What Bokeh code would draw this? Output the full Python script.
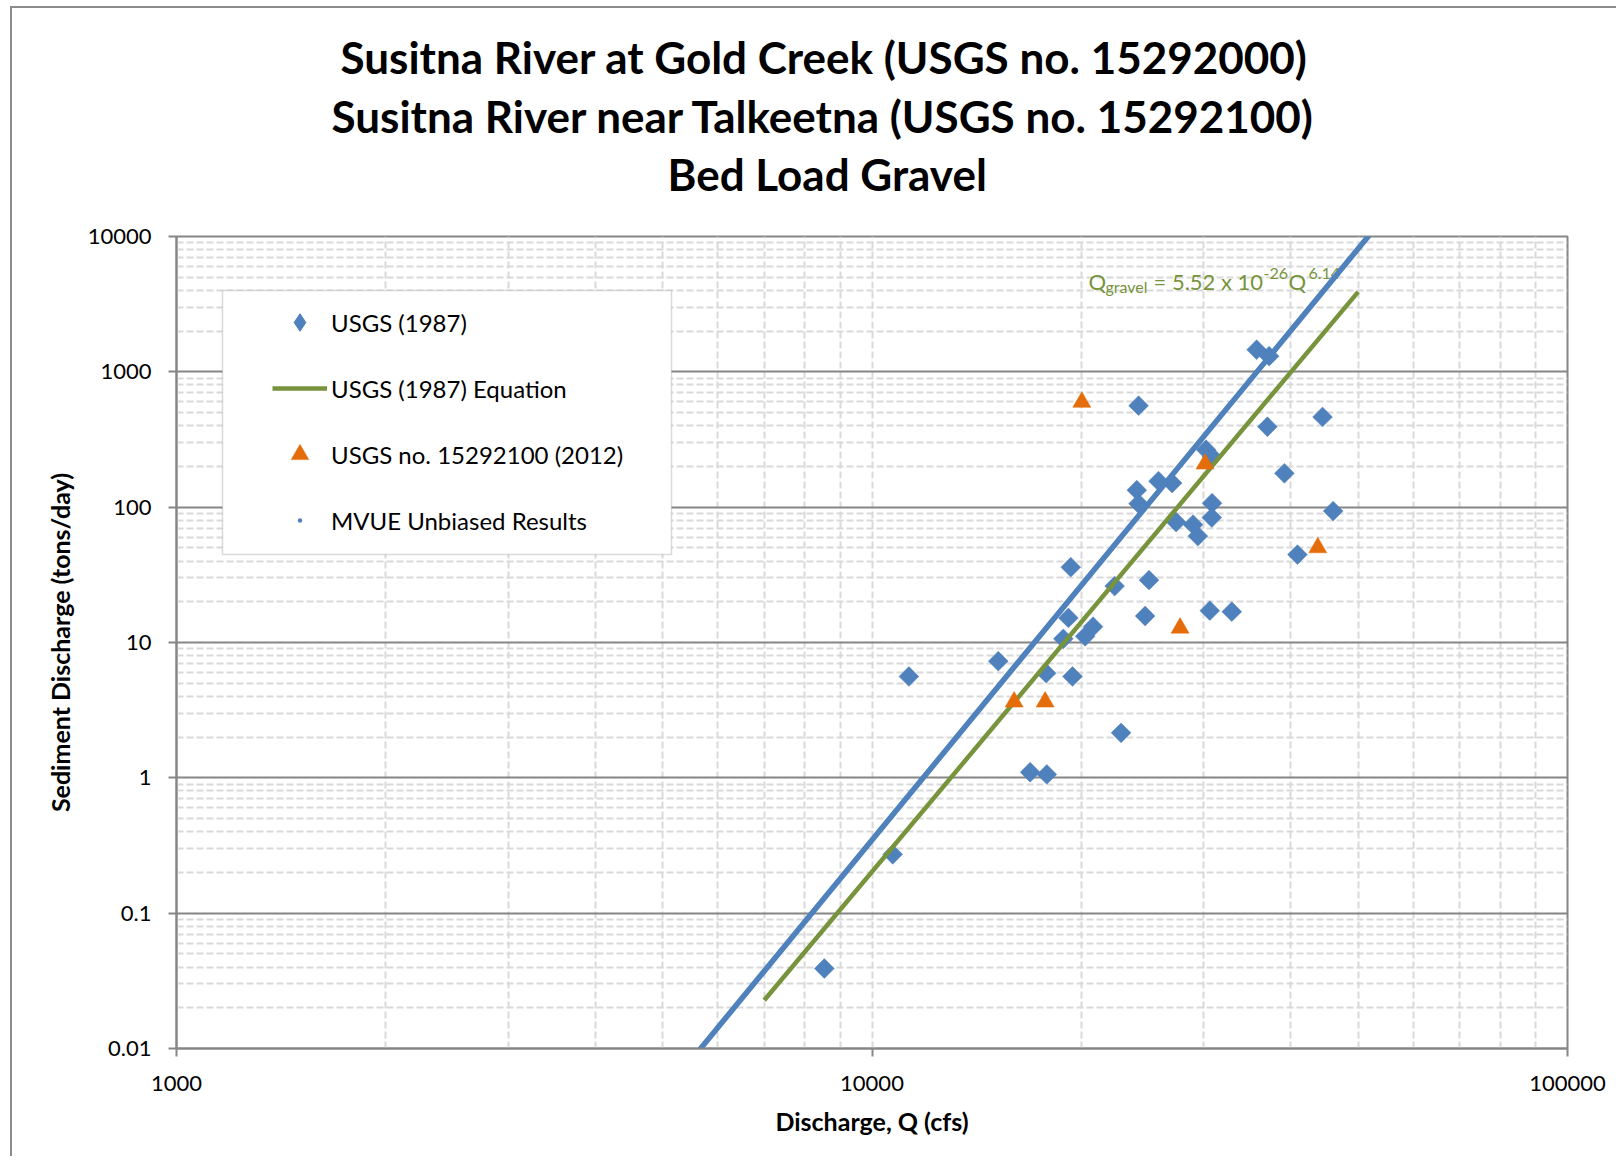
import math
from bokeh.plotting import figure
from bokeh.models import FixedTicker, Label, Legend, LegendItem, BoxAnnotation, Range1d, Title
from bokeh.embed import file_html
from bokeh.resources import INLINE

# ---------------- data ----------------
usgs1987_q = [8540, 10710, 11300, 15190, 16880, 17840, 17800, 19420, 18840, 19160,
              19310, 20250, 20790, 22330, 22810, 24700, 25020, 24170, 24030, 24170,
              25820, 27010, 27370, 28950, 29410, 30220, 30830, 30830, 30800, 30600,
              32910, 35730, 37240, 37030, 39170, 40900, 44440, 46030]
usgs1987_qs = [0.039, 0.272, 5.61, 7.28, 1.10, 1.06, 5.93, 5.61, 10.65, 15.2,
               36.0, 11.1, 13.1, 26.1, 2.15, 15.7, 28.9, 562, 133.6, 106.2,
               155.7, 150.6, 77.6, 74.3, 61.1, 266, 236, 107, 83.7, 17.2,
               16.9, 1457, 1305, 393, 178, 44.6, 464, 93.5]

usgs2012_q = [16010, 17740, 20030, 27730, 30120, 43750]
usgs2012_qs = [3.64, 3.64, 597, 12.8, 208.7, 50.3]

equation_q = [7000, 50000]
equation_qs = [0.0227, 3900]

mvue_q = [5670, 51690]
mvue_qs = [0.01, 10000]

x_ticks = [1000, 10000, 100000]
x_tick_labels = ["1000", "10000", "100000"]
y_ticks = [0.01, 0.1, 1, 10, 100, 1000, 10000]
y_tick_labels = ["0.01", "0.1", "1", "10", "100", "1000", "10000"]

title_lines = ["Susitna River at Gold Creek (USGS no. 15292000)",
               "Susitna River near Talkeetna (USGS no. 15292100)",
               "Bed Load Gravel"]
series_names = ["USGS (1987)", "USGS (1987) Equation",
                "USGS no. 15292100 (2012)", "MVUE Unbiased Results"]

# ---------------- styles ----------------
BLUE = "#4F81BD"
ORANGE = "#E46C0A"
GREEN = "#77933C"
AXIS = "#868686"
MINOR = "#D9D9D9"
FONT = "Lato"

p = figure(width=1606, height=1150,
           x_axis_type="log", y_axis_type="log",
           x_range=Range1d(1000, 100000), y_range=Range1d(0.01, 10000),
           output_backend="svg", toolbar_location=None,
           min_border_left=164, min_border_right=51,
           min_border_top=228, min_border_bottom=110,
           background_fill_color="white", border_fill_color="white")
p.styles = {"border-left": "2px solid #8C8C8C", "border-top": "2px solid #8C8C8C",
            "margin-left": "10px", "margin-top": "6px"}

x_minor = [m * 10.0 ** e for e in (3, 4) for m in range(2, 10)]
y_minor = [m * 10.0 ** e for e in range(-2, 4) for m in range(2, 10)]
xt = FixedTicker(ticks=x_ticks, minor_ticks=x_minor)
yt = FixedTicker(ticks=y_ticks, minor_ticks=y_minor)
p.xaxis.ticker = xt
p.yaxis.ticker = yt
p.xgrid.ticker = xt
p.ygrid.ticker = yt
p.xaxis.major_label_overrides = dict(zip(x_ticks, x_tick_labels))
p.yaxis.major_label_overrides = dict(zip(y_ticks, y_tick_labels))

p.outline_line_color = AXIS
p.outline_line_width = 2

for ax in (p.xaxis[0], p.yaxis[0]):
    ax.axis_line_color = AXIS
    ax.axis_line_width = 2
    ax.major_tick_line_color = AXIS
    ax.major_tick_line_width = 2
    ax.major_tick_out = 8
    ax.major_tick_in = 0
    ax.minor_tick_line_color = None
    ax.major_label_text_font = FONT
    ax.major_label_text_font_size = "22px"
    ax.major_label_text_color = "black"
    ax.axis_label_text_font = FONT
    ax.axis_label_text_font_style = "bold"
    ax.axis_label_text_font_size = "25px"
    ax.axis_label_text_color = "black"

p.xaxis.axis_label = "Discharge, Q (cfs)"
p.yaxis.axis_label = "Sediment Discharge (tons/day)"
p.xaxis.major_label_standoff = 19
p.yaxis.major_label_standoff = 17
p.xaxis.axis_label_standoff = 12
p.yaxis.axis_label_standoff = 10

p.xgrid.grid_line_color = MINOR
p.xgrid.grid_line_dash = "7 3"
p.xgrid.grid_line_width = 2
p.xgrid.minor_grid_line_color = MINOR
p.xgrid.minor_grid_line_dash = "7 3"
p.xgrid.minor_grid_line_width = 2
p.ygrid.grid_line_color = AXIS
p.ygrid.grid_line_width = 2
p.ygrid.minor_grid_line_color = MINOR
p.ygrid.minor_grid_line_dash = "7 3"
p.ygrid.minor_grid_line_width = 2

# ---------------- titles (stacked upward from the plot) ----------------
# spacing block between the plot frame and the last title line
p.add_layout(Title(text=" ", standoff=22, text_font=FONT, text_font_size="10px"), "above")
for txt, off, so in zip(reversed(title_lines), [491, 155, 164], [2, 5, 5]):
    p.add_layout(Title(text=txt, align="left", offset=off, standoff=so,
                       text_font=FONT, text_font_style="bold", text_font_size="44px",
                       text_color="black"), "above")

# ---------------- equation label (behind the glyphs) ----------------
eq_parts = [  # (text, x, y, size)
    ("Q", 912, 767, "22px"),
    ("gravel", 929, 762, "16px"),
    ("= 5.52 x 10", 977, 767, "22px"),
    ("-26", 1087, 775, "16px"),
    ("Q", 1112, 767, "22px"),
    ("6.14", 1132, 775, "16px"),
]
for txt, x, y, sz in eq_parts:
    p.add_layout(Label(x=x, y=y, x_units="screen", y_units="screen", text=txt,
                       text_font=FONT, text_font_size=sz, text_color=GREEN,
                       text_baseline="alphabetic", text_align="left", level="underlay"))

# ---------------- glyphs ----------------
# legend proxy for the diamond symbol (hidden under the first data diamond)
r_usgs_proxy = p.scatter(usgs1987_q[:1], usgs1987_qs[:1], marker="diamond", size=12,
                         fill_color=BLUE, line_color=BLUE)
r_usgs = p.scatter(usgs1987_q, usgs1987_qs, marker="square", size=14, angle=math.pi / 4,
                   fill_color=BLUE, line_color=BLUE, line_width=0.5)
r_eq = p.line(equation_q, equation_qs, line_color=GREEN, line_width=4.5)
r_2012 = p.scatter(usgs2012_q, usgs2012_qs, marker="triangle", size=18,
                   fill_color=ORANGE, line_color=ORANGE, line_width=0.5)
r_mvue_line = p.line(mvue_q, mvue_qs, line_color=BLUE, line_width=5.5, line_cap="round")
r_mvue = p.scatter(mvue_q, mvue_qs, marker="dot", size=6, fill_color=BLUE, line_color=BLUE)

# ---------------- legend ----------------
p.add_layout(BoxAnnotation(left=46, right=495, bottom=494, top=758,
                           left_units="screen", right_units="screen",
                           bottom_units="screen", top_units="screen",
                           fill_color="white", fill_alpha=1.0,
                           line_color=AXIS, line_width=1.5))
legend = Legend(items=[LegendItem(label=series_names[0], renderers=[r_usgs_proxy]),
                       LegendItem(label=series_names[1], renderers=[r_eq]),
                       LegendItem(label=series_names[2], renderers=[r_2012]),
                       LegendItem(label=series_names[3], renderers=[r_mvue])],
                location=(86, 496), glyph_width=55, glyph_height=44, label_height=44,
                spacing=22, padding=10, label_standoff=4, margin=0,
                label_text_font=FONT, label_text_font_size="24px", label_text_color="black",
                border_line_alpha=0, background_fill_alpha=0)
p.add_layout(legend)

open("out.html", "w").write(file_html(p, INLINE, title="Susitna River Bed Load Gravel"))
